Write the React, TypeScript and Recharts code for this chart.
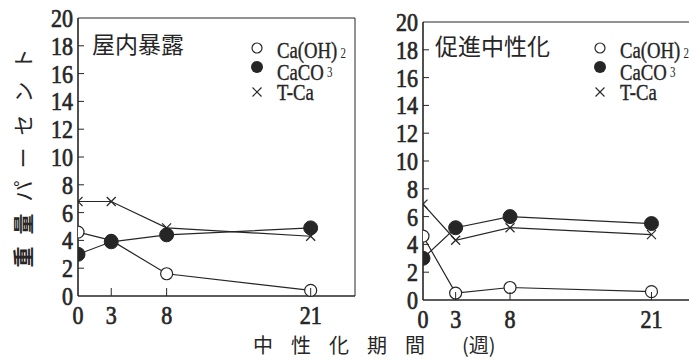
import React from 'react';
import { LineChart, Line, XAxis, YAxis, ReferenceArea, Legend } from 'recharts';

// weeks of carbonation
const weeks = [0, 3, 8, 21];
const yTicks = [0, 2, 4, 6, 8, 10, 12, 14, 16, 18, 20];
const seriesNames = ['Ca(OH)2', 'CaCO3', 'T-Ca'];

// indoor exposure (屋内暴露), weight %
const indoorCaOH2 = [4.6, 4.0, 1.6, 0.4];
const indoorCaCO3 = [3.0, 3.9, 4.4, 4.9];
const indoorTCa = [6.8, 6.8, 4.9, 4.3];

// accelerated carbonation (促進中性化), weight %
const accelCaOH2 = [4.6, 0.5, 0.9, 0.6];
const accelCaCO3 = [3.0, 5.2, 6.0, 5.5];
const accelTCa = [6.9, 4.3, 5.2, 4.7];

const INK = '#262626';
const SERIF = '"Liberation Serif", "DejaVu Serif", serif';
const JP = '"Noto Sans CJK JP", sans-serif';

const toRows = (a: number[], b: number[], c: number[]) =>
  weeks.map((w, i) => ({ week: w, caoh2: a[i], caco3: b[i], tca: c[i] }));

const indoorRows = toRows(indoorCaOH2, indoorCaCO3, indoorTCa);
const accelRows = toRows(accelCaOH2, accelCaCO3, accelTCa);

// condensed, slightly heavy digits like the printed axis numbers
const digitProps = {
  fontSize: 25,
  fontFamily: SERIF,
  fill: INK,
  stroke: INK,
  strokeWidth: 0.7,
  lengthAdjust: 'spacingAndGlyphs' as const,
};

const YTick = (props: any) => {
  const { x, y, payload } = props;
  const v = payload.value;
  const label = String(v);
  return (
    <g>
      {v > 0 && v < 20 && <line x1={x} x2={x + 6} y1={y} y2={y} stroke={INK} strokeWidth={1} />}
      <text x={x - 5} y={y + 9} textAnchor="end" textLength={label.length * 11} {...digitProps}>
        {label}
      </text>
    </g>
  );
};

const XTick = (props: any) => {
  const { x, y, payload } = props;
  const v = payload.value;
  const label = String(v);
  return (
    <g>
      {v > 0 && <line x1={x} x2={x} y1={y} y2={y - 8} stroke={INK} strokeWidth={1} />}
      <text x={x} y={y + 28} textAnchor="middle" textLength={label.length * 11} {...digitProps}>
        {label}
      </text>
    </g>
  );
};

const CrossDot = (props: any) => {
  const { cx, cy, index } = props;
  const s = 4.5;
  return (
    <g key={`x-${index}`}>
      <line x1={cx - s} y1={cy - s} x2={cx + s} y2={cy + s} stroke={INK} strokeWidth={1.2} />
      <line x1={cx - s} y1={cy + s} x2={cx + s} y2={cy - s} stroke={INK} strokeWidth={1.2} />
    </g>
  );
};

const Symbol = ({ name, y }: { name: string; y: number }) => {
  if (name === 'Ca(OH)2') return <circle cx={10} cy={y} r={5} fill="#fff" stroke={INK} strokeWidth={1.2} />;
  if (name === 'CaCO3') return <circle cx={10} cy={y} r={6} fill={INK} />;
  return (
    <g>
      <line x1={5.5} y1={y - 4.5} x2={14.5} y2={y + 4.5} stroke={INK} strokeWidth={1.1} />
      <line x1={5.5} y1={y + 4.5} x2={14.5} y2={y - 4.5} stroke={INK} strokeWidth={1.1} />
    </g>
  );
};

const symbolY = [22, 41, 66];
const textBase = [32, 54, 74];

const LegendBox = () => (
  <svg width={100} height={84} style={{ display: 'block' }}>
    {seriesNames.map((name, i) => {
      const m = name.match(/^(.*?)(\d)?$/);
      const main = m ? m[1] : name;
      const sub = m && m[2] ? m[2] : '';
      return (
        <g key={name}>
          <Symbol name={name} y={symbolY[i]} />
          {/* narrow serif lettering */}
          <g transform={`translate(30 ${textBase[i]}) scale(0.78 1)`}>
            <text x={0} y={0} fontSize={24} fontFamily={SERIF} fill={INK} stroke={INK} strokeWidth={0.4}>
              {main}
              {sub && (
                <tspan dx={4} dy={sub === '3' ? -3 : 0} fontSize={14} strokeWidth={0}>
                  {sub}
                </tspan>
              )}
            </text>
          </g>
        </g>
      );
    })}
  </svg>
);

type PanelProps = {
  rows: any[];
  left: number;
  width: number;
  height: number;
  top: number;
  legendLeft: number;
};

const Panel = ({ rows, left, width, height, top, legendLeft }: PanelProps) => (
  <div style={{ position: 'absolute', left, top: 0 }}>
    <LineChart
      width={width}
      height={height}
      data={rows}
      margin={{ top, right: 5, left: 48, bottom: 19 }}
    >
      <XAxis
        dataKey="week"
        type="number"
        domain={[0, 25]}
        ticks={weeks}
        allowDataOverflow
        axisLine={{ stroke: INK, strokeWidth: 1.2 }}
        tickLine={false}
        tickSize={0}
        tickMargin={0}
        height={30}
        tick={<XTick />}
        interval={0}
      />
      <YAxis
        type="number"
        domain={[0, 20]}
        ticks={yTicks}
        axisLine={{ stroke: INK, strokeWidth: 1.2 }}
        tickLine={false}
        tickSize={0}
        tickMargin={0}
        width={30}
        tick={<YTick />}
        interval={0}
      />
      <ReferenceArea x1={0} x2={25} y1={0} y2={20} fill="none" stroke={INK} strokeWidth={1} />
      <Legend
        layout="vertical"
        align="center"
        verticalAlign="middle"
        wrapperStyle={{ left: legendLeft, top: 26, width: 100, height: 84 }}
        content={() => <LegendBox />}
      />
      <Line
        dataKey="caoh2"
        name={seriesNames[0]}
        stroke={INK}
        strokeWidth={1.2}
        dot={{ r: 6, fill: '#fff', stroke: INK, strokeWidth: 1.2 }}
        isAnimationActive={false}
      />
      <Line
        dataKey="caco3"
        name={seriesNames[1]}
        stroke={INK}
        strokeWidth={1.2}
        dot={{ r: 7, fill: INK, stroke: INK, strokeWidth: 1 }}
        isAnimationActive={false}
      />
      <Line
        dataKey="tca"
        name={seriesNames[2]}
        stroke={INK}
        strokeWidth={1.2}
        dot={(p: any) => <CrossDot key={`c-${p.index}`} {...p} />}
        isAnimationActive={false}
      />
    </LineChart>
  </div>
);

const titleStyle: React.CSSProperties = {
  position: 'absolute',
  fontFamily: JP,
  fontSize: 23,
  lineHeight: '23px',
  color: INK,
  whiteSpace: 'nowrap',
};

const axisTitleStyle: React.CSSProperties = {
  position: 'absolute',
  top: 334,
  fontFamily: JP,
  fontSize: 20,
  lineHeight: '21px',
  color: INK,
  whiteSpace: 'nowrap',
};

export default function App() {
  return (
    <div
      style={{
        position: 'absolute',
        left: 0,
        top: 0,
        width: 689,
        height: 360,
        overflow: 'hidden',
        background: '#fff',
      }}
    >
      <Panel rows={indoorRows} left={0} width={360} height={345} top={18} legendLeft={247} />
      <Panel rows={accelRows} left={345} width={355} height={349} top={22} legendLeft={245} />

      <div style={{ ...titleStyle, left: 92, top: 32 }}>屋内暴露</div>
      <div style={{ ...titleStyle, left: 435, top: 34 }}>促進中性化</div>

      {/* y-axis title, read bottom to top */}
      <div
        style={{
          position: 'absolute',
          left: 22,
          top: 152,
          transform: 'translate(-50%, -50%) rotate(-90deg)',
          fontFamily: JP,
          fontSize: 21,
          letterSpacing: 12,
          color: INK,
          whiteSpace: 'nowrap',
        }}
      >
        <span style={{ fontWeight: 700 }}>重量</span>パーセント
      </div>

      {/* x-axis title */}
      <div style={{ ...axisTitleStyle, left: 253 }}>
        <span style={{ letterSpacing: 18 }}>中性化期</span>間
      </div>
      <div style={{ ...axisTitleStyle, left: 462 }}>(週)</div>
    </div>
  );
}
